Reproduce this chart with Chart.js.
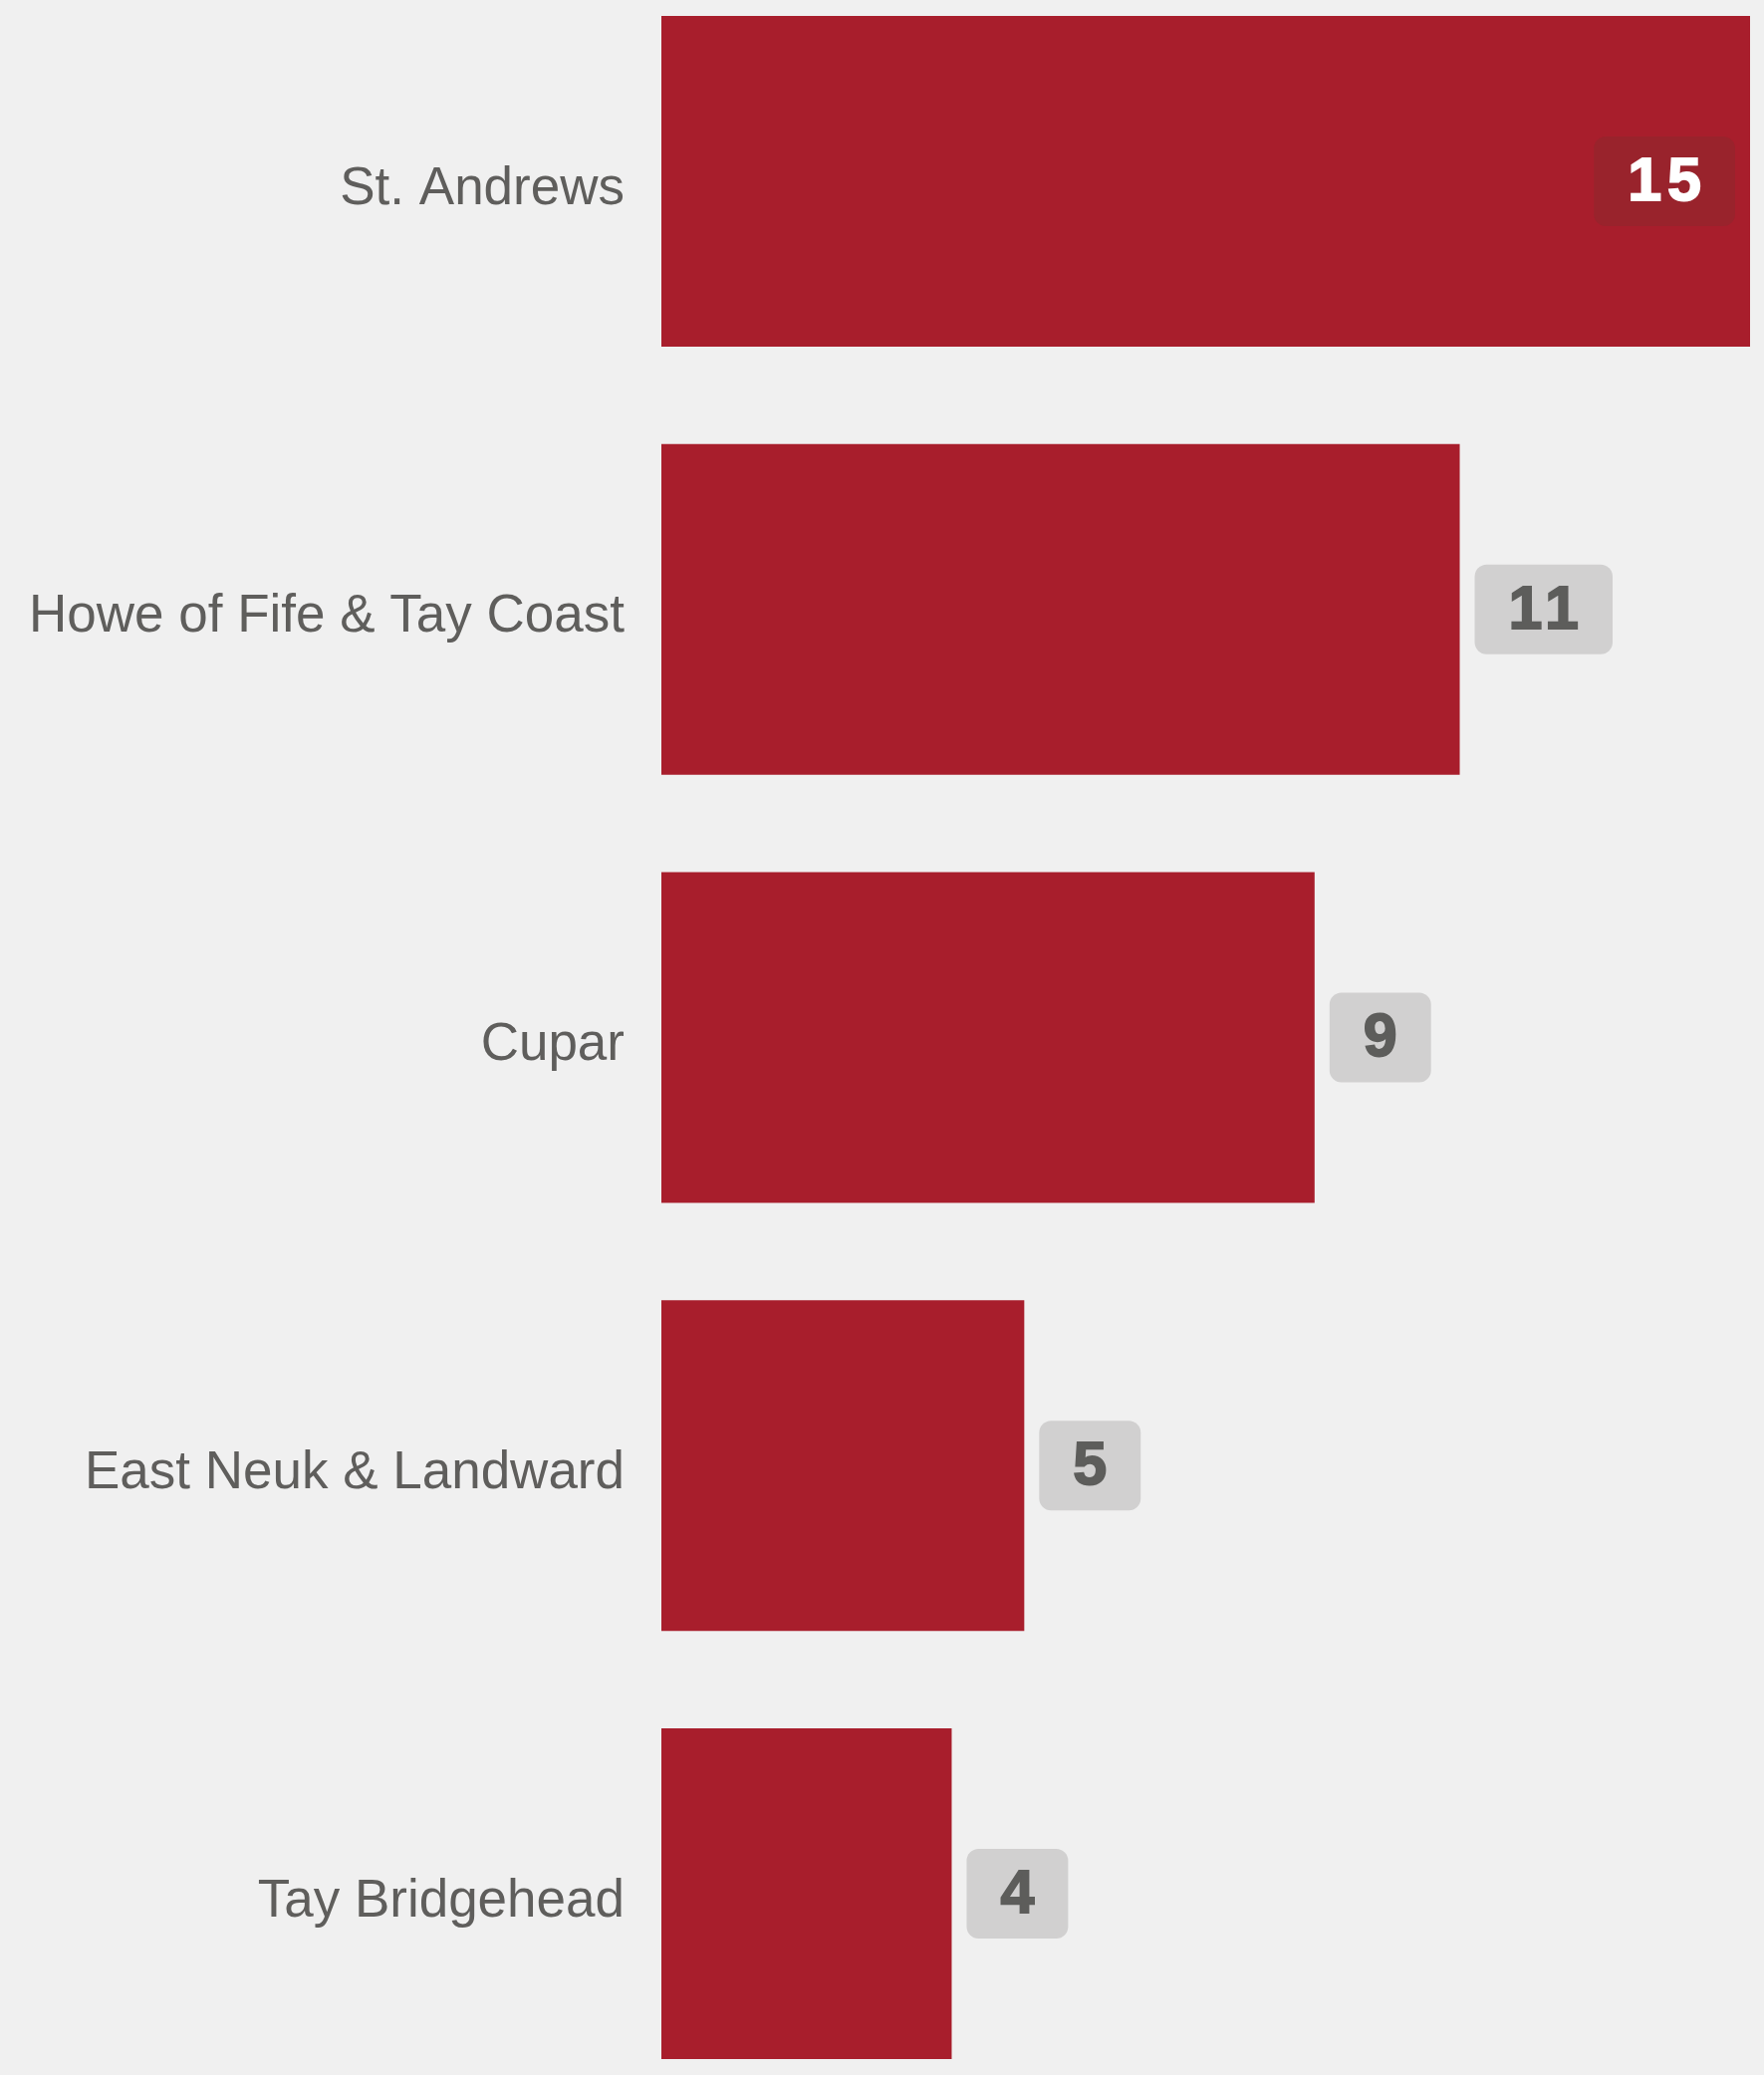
<!DOCTYPE html>
<html>
<head>
<meta charset="utf-8">
<script src="https://cdn.jsdelivr.net/npm/chart.js@4.4.1/dist/chart.umd.min.js"></script>
<style>
  html, body { margin: 0; padding: 0; background: #f0f0f0; overflow: hidden; }
  #wrap { position: relative; width: 1771px; height: 2083px; }
</style>
</head>
<body>
<div id="wrap"><canvas id="c" width="1771" height="2083"></canvas></div>
<script>
const categories = ["St. Andrews", "Howe of Fife & Tay Coast", "Cupar", "East Neuk & Landward", "Tay Bridgehead"];
const values = [15, 11, 9, 5, 4];
const xMin = 0;
const xMax = 15;

const BAR_COLOR = '#a81e2c';
const BG = '#f0f0f0';

const badgePlugin = {
  id: 'badges',
  afterDatasetsDraw(chart) {
    const ctx = chart.ctx;
    const meta = chart.getDatasetMeta(0);
    ctx.save();
    ctx.font = 'bold 61px "Liberation Sans", Arial, sans-serif';
    const ls = 6;
    try { ctx.letterSpacing = ls + 'px'; } catch (e) {}
    meta.data.forEach((bar, i) => {
      const { x, y } = bar.getProps(['x', 'y'], true);
      const txt = String(values[i]);
      const tw = ctx.measureText(txt).width;
      const w = tw + 62;
      const h = 90;
      let left = x + 15;
      let inside = false;
      if (left + w > chart.width) { left = x - 15 - w; inside = true; }
      const top = y - h / 2;
      ctx.beginPath();
      ctx.roundRect(left, top, w, h, 12);
      ctx.fillStyle = inside ? 'rgba(150,36,45,0.85)' : '#d1d0d0';
      ctx.fill();
      const col = inside ? '#ffffff' : '#5d5d5b';
      ctx.fillStyle = col;
      ctx.strokeStyle = col;
      ctx.lineWidth = 1.8;
      ctx.textAlign = 'center';
      ctx.textBaseline = 'middle';
      const tx = left + w / 2 + ls / 2;
      const ty = y + 2;
      ctx.fillText(txt, tx, ty);
      ctx.strokeText(txt, tx, ty);
    });
    ctx.restore();
  }
};

const bgPlugin = {
  id: 'bg',
  beforeDraw(chart) {
    const ctx = chart.ctx;
    ctx.save();
    ctx.fillStyle = BG;
    ctx.fillRect(0, 0, chart.width, chart.height);
    ctx.restore();
  }
};

new Chart(document.getElementById('c'), {
  type: 'bar',
  data: {
    labels: categories,
    datasets: [{
      data: values,
      backgroundColor: BAR_COLOR,
      borderWidth: 0,
      categoryPercentage: 1,
      barPercentage: 0.7725,
      clip: false
    }]
  },
  options: {
    indexAxis: 'y',
    responsive: false,
    animation: false,
    devicePixelRatio: 1,
    layout: { padding: { top: 182, bottom: 182, left: 0, right: 14 } },
    plugins: { legend: { display: false }, tooltip: { enabled: false } },
    scales: {
      x: { display: false, min: xMin, max: xMax },
      y: {
        offset: false,
        grid: { display: false, drawTicks: false },
        border: { display: false },
        ticks: {
          color: '#5f5e5c',
          padding: 37,
          labelOffset: 8,
          font: { family: '"Liberation Sans", Arial, sans-serif', size: 53 }
        },
        afterFit(scale) { scale.width = 664; }
      }
    }
  },
  plugins: [bgPlugin, badgePlugin]
});
</script>
</body>
</html>
